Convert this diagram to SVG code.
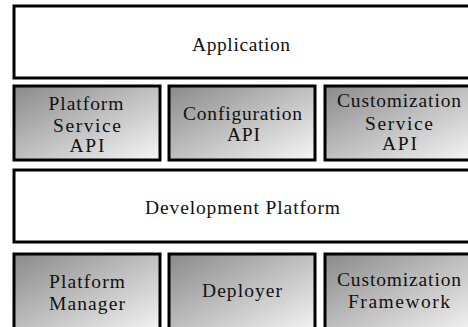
<svg xmlns="http://www.w3.org/2000/svg" width="468" height="327" viewBox="0 0 468 327">
<style>
.plain{fill:#ffffff;stroke:#000;stroke-width:3}
.shade{fill:url(#g);stroke:#000;stroke-width:3}
text{font-family:"Liberation Serif","Times New Roman",serif;font-size:19.5px;fill:#111;text-anchor:middle}
</style>
<defs>
<linearGradient id="g" x1="0" y1="0" x2="1" y2="1">
<stop offset="0" stop-color="#8a8a8a"/>
<stop offset="1" stop-color="#f6f6f6"/>
</linearGradient>
</defs>
<rect width="468" height="327" fill="#fff"/>
<g id="application">
<rect class="plain" x="14" y="6" width="470" height="72"/>
<text x="241" y="51" textLength="98" lengthAdjust="spacing">Application</text>
</g>
<g id="platform-service-api">
<rect class="shade" x="14" y="86" width="146" height="74"/>
<text x="86" y="110" textLength="75" lengthAdjust="spacing">Platform</text>
<text x="87" y="132" textLength="68" lengthAdjust="spacing">Service</text>
<text x="87" y="152" textLength="35" lengthAdjust="spacing">API</text>
</g>
<g id="configuration-api">
<rect class="shade" x="169" y="86" width="146" height="74"/>
<text x="242.5" y="120" textLength="119" lengthAdjust="spacing">Configuration</text>
<text x="243.5" y="141" textLength="33" lengthAdjust="spacing">API</text>
</g>
<g id="customization-service-api">
<rect class="shade" x="325" y="86" width="150" height="74"/>
<text x="399" y="107" textLength="124" lengthAdjust="spacing">Customization</text>
<text x="399" y="130" textLength="68" lengthAdjust="spacing">Service</text>
<text x="399.5" y="150" textLength="35" lengthAdjust="spacing">API</text>
</g>
<g id="development-platform">
<rect class="plain" x="14" y="170" width="470" height="72"/>
<text x="242.5" y="214" textLength="195" lengthAdjust="spacing">Development Platform</text>
</g>
<g id="platform-manager">
<rect class="shade" x="14" y="254" width="146" height="80"/>
<text x="87" y="288" textLength="76" lengthAdjust="spacing">Platform</text>
<text x="87" y="310" textLength="76" lengthAdjust="spacing">Manager</text>
</g>
<g id="deployer">
<rect class="shade" x="169" y="254" width="146" height="80"/>
<text x="242" y="297" textLength="80" lengthAdjust="spacing">Deployer</text>
</g>
<g id="customization-framework">
<rect class="shade" x="325" y="254" width="150" height="80"/>
<text x="399" y="286" textLength="124" lengthAdjust="spacing">Customization</text>
<text x="399" y="308" textLength="102" lengthAdjust="spacing">Framework</text>
</g>
<g id="connectors"></g>
</svg>
